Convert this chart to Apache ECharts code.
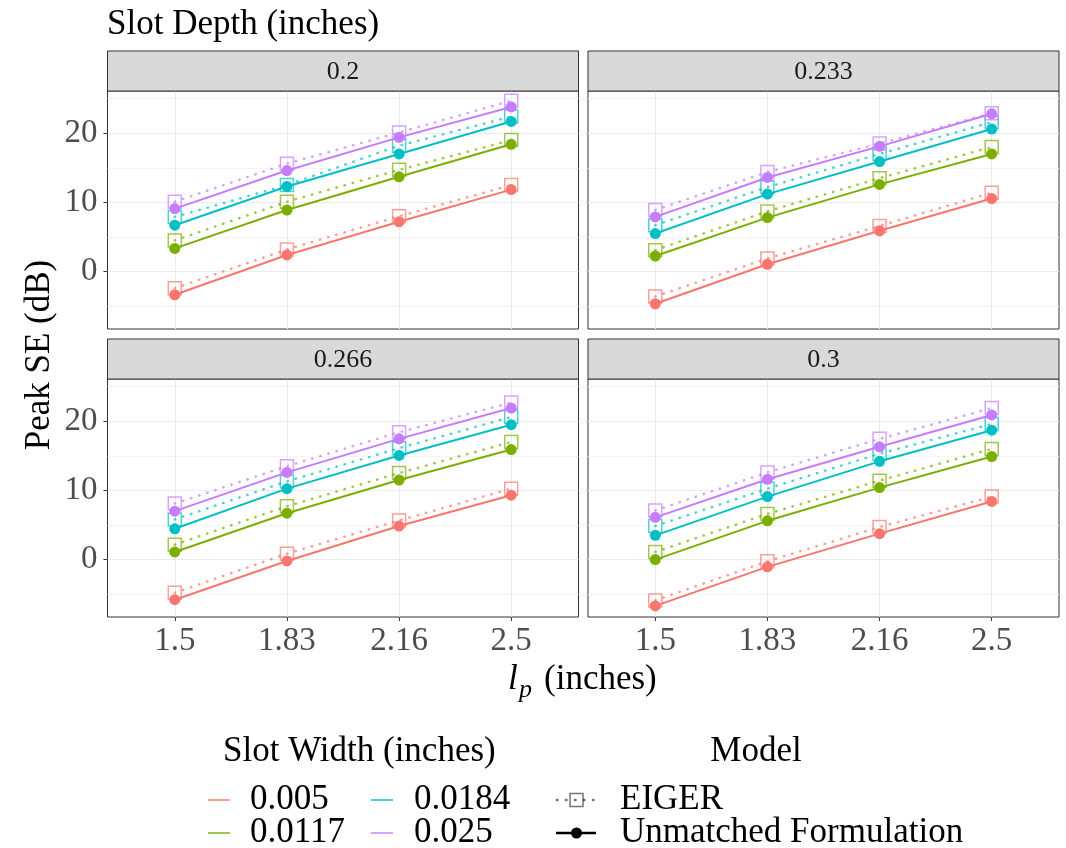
<!DOCTYPE html>
<html>
<head>
<meta charset="utf-8">
<script src="https://cdn.jsdelivr.net/npm/echarts@6/dist/echarts.min.js"></script>
<style>
  html, body { margin: 0; padding: 0; background: #ffffff; }
  #chart { width: 1066px; height: 848px; }
</style>
</head>
<body>
<div id="chart"></div>
<script>
// ---- data ----
const lpLabels = ['1.5', '1.83', '2.16', '2.5'];          // l_p (inches), discrete x
const slotDepths = ['0.2', '0.233', '0.266', '0.3'];     // facet panels
const slotWidths = ['0.005', '0.0117', '0.0184', '0.025'];
const yMajorTicks = [0, 10, 20];
const yMinorTicks = [-5, 5, 15, 25];

// Peak SE (dB) per slot depth; one row per slot width, one value per l_p
const eiger_d0200 = [
  [-2.4, 3.2, 8.0, 12.5],
  [4.5, 10.1, 14.7, 19.0],
  [7.9, 12.5, 18.2, 22.4],
  [10.1, 15.6, 20.1, 24.7]
];
const unmatched_d0200 = [
  [-3.35, 2.4, 7.2, 11.85],
  [3.35, 8.9, 13.7, 18.4],
  [6.7, 12.3, 17.0, 21.7],
  [9.1, 14.6, 19.4, 23.8]
];
const eiger_d0233 = [
  [-3.6, 1.9, 6.6, 11.4],
  [3.1, 8.7, 13.5, 18.0],
  [6.7, 12.2, 17.0, 21.6],
  [8.9, 14.4, 18.5, 22.9]
];
const unmatched_d0233 = [
  [-4.65, 1.05, 5.9, 10.55],
  [2.25, 7.8, 12.6, 17.0],
  [5.5, 11.2, 15.9, 20.6],
  [7.9, 13.6, 18.1, 22.8]
];
const eiger_d0266 = [
  [-4.8, 0.85, 5.65, 10.25],
  [2.15, 7.7, 12.5, 17.0],
  [5.8, 11.3, 16.1, 20.6],
  [8.1, 13.5, 18.4, 22.7]
];
const unmatched_d0266 = [
  [-5.8, -0.2, 4.85, 9.3],
  [1.1, 6.7, 11.5, 15.9],
  [4.45, 10.25, 15.05, 19.5],
  [7.0, 12.6, 17.45, 21.9]
];
const eiger_d0300 = [
  [-5.9, -0.25, 4.7, 9.1],
  [1.1, 6.6, 11.4, 16.0],
  [4.85, 10.25, 15.3, 19.6],
  [7.1, 12.6, 17.45, 21.9]
];
const unmatched_d0300 = [
  [-6.7, -1.05, 3.75, 8.4],
  [0.0, 5.6, 10.4, 14.9],
  [3.5, 9.1, 14.2, 18.7],
  [6.1, 11.6, 16.3, 20.9]
];

// ---- styling / layout ----
const FONT = '"Liberation Serif", "Times New Roman", serif';
const widthColors = ['#F8766D', '#7CAE00', '#00BFC4', '#C77CFF'];
const widthColorsLight = ['rgba(248,118,109,0.7)', 'rgba(124,174,0,0.7)',
                          'rgba(0,191,196,0.7)', 'rgba(199,124,255,0.7)'];
const eigerByPanel = [eiger_d0200, eiger_d0233, eiger_d0266, eiger_d0300];
const unmatchedByPanel = [unmatched_d0200, unmatched_d0233, unmatched_d0266, unmatched_d0300];

const panels = [
  { left: 107.5, top: 91, width: 471, height: 238 },
  { left: 588, top: 91, width: 471, height: 238 },
  { left: 107.5, top: 379, width: 471, height: 238 },
  { left: 588, top: 379, width: 471, height: 238 }
];
const STRIP_H = 40;
const Y_MIN = -8.3, Y_MAX = 26.1;
const X_MIN = -0.6, X_MAX = 3.6;
const xPositions = lpLabels.map((_, k) => k);

const chart = echarts.init(document.getElementById('chart'), null, { renderer: 'canvas' });

const grids = panels.map(p => ({
  left: p.left, top: p.top, width: p.width, height: p.height,
  show: true, backgroundColor: '#ffffff', borderColor: '#333333', borderWidth: 1,
  containLabel: false, outerBoundsMode: 'none'
}));

const xAxes = panels.map((p, i) => {
  const bottomRow = i >= 2;
  return {
    gridIndex: i, type: 'value', min: X_MIN, max: X_MAX, position: 'bottom',
    axisLine: { show: false, onZero: false },
    axisTick: { show: bottomRow, customValues: xPositions, length: 4, inside: false,
                lineStyle: { color: '#333333', width: 1 } },
    axisLabel: { show: bottomRow, customValues: xPositions, margin: 8,
                 formatter: v => lpLabels[Math.round(v)] || '',
                 color: '#4D4D4D', fontFamily: FONT, fontSize: 33 },
    splitLine: { show: true, lineStyle: { color: '#EBEBEB', width: 1 } }
  };
});

const yMain = panels.map((p, i) => {
  const leftCol = i % 2 === 0;
  return {
    gridIndex: i, type: 'value', min: Y_MIN, max: Y_MAX, position: 'left',
    axisLine: { show: false, onZero: false },
    axisTick: { show: leftCol, customValues: yMajorTicks, length: 4,
                lineStyle: { color: '#333333', width: 1 } },
    axisLabel: { show: leftCol, customValues: yMajorTicks, margin: 10,
                 color: '#4D4D4D', fontFamily: FONT, fontSize: 33 },
    splitLine: { show: true, lineStyle: { color: '#EBEBEB', width: 1 } }
  };
});
const yMinor = panels.map((p, i) => ({
  gridIndex: i, type: 'value', min: Y_MIN, max: Y_MAX, position: 'left',
  axisLine: { show: false, onZero: false },
  axisTick: { show: false, customValues: yMinorTicks },
  axisLabel: { show: false, customValues: yMinorTicks },
  splitLine: { show: true, lineStyle: { color: '#F4F4F4', width: 1 } }
}));

const series = [];
panels.forEach((p, i) => {
  // EIGER: dotted lines with hollow squares
  slotWidths.forEach((w, k) => {
    series.push({
      type: 'line', name: w + ' EIGER', xAxisIndex: i, yAxisIndex: i,
      data: eigerByPanel[i][k].map((v, j) => [xPositions[j], v]),
      symbol: 'rect', symbolSize: 13, showSymbol: true,
      itemStyle: { color: 'rgba(255,255,255,0)', borderColor: widthColorsLight[k], borderWidth: 1.5 },
      lineStyle: { color: widthColorsLight[k], width: 2.5, type: [0.5, 8], cap: 'round' },
      silent: true, animation: false, z: 2
    });
  });
  // Unmatched formulation: solid lines with filled circles
  slotWidths.forEach((w, k) => {
    series.push({
      type: 'line', name: w + ' Unmatched Formulation', xAxisIndex: i, yAxisIndex: i,
      data: unmatchedByPanel[i][k].map((v, j) => [xPositions[j], v]),
      symbol: 'circle', symbolSize: 11, showSymbol: true,
      itemStyle: { color: widthColors[k], borderWidth: 0 },
      lineStyle: { color: widthColors[k], width: 2 },
      silent: true, animation: false, z: 3
    });
  });
});

// ---- annotations: facet strips, titles, legend ----
function txt(x, y, text, opts) {
  const o = opts || {};
  const align = o.align || 'left';
  const valign = o.valign || 'middle';
  return {
    type: 'text', x: x, y: y, rotation: o.rotation || 0, silent: true, z: 100,
    style: {
      text: text, fill: o.color || '#000000',
      font: (o.style || 'normal') + ' ' + (o.size || 35) + 'px ' + FONT,
      textAlign: align, textVerticalAlign: valign, align: align, verticalAlign: valign
    }
  };
}

const graphics = [];
panels.forEach((p, i) => {
  graphics.push({
    type: 'rect', silent: true, z: 90,
    shape: { x: p.left, y: p.top - STRIP_H, width: p.width, height: STRIP_H },
    style: { fill: '#D9D9D9', stroke: '#333333', lineWidth: 1 }
  });
  graphics.push(txt(p.left + p.width / 2, p.top - STRIP_H / 2 + 1, slotDepths[i],
                    { align: 'center', size: 26, color: '#1A1A1A' }));
});

graphics.push(txt(107, 25, 'Slot Depth (inches)', { size: 35 }));
graphics.push(txt(40, 355, 'Peak SE (dB)', { align: 'center', size: 35, rotation: Math.PI / 2 }));
graphics.push(txt(508, 680, 'l', { size: 35, style: 'italic' }));
graphics.push(txt(519, 690, 'p', { size: 26, style: 'italic' }));
graphics.push(txt(544, 680, '(inches)', { size: 35 }));

// legend: slot width
graphics.push(txt(223, 752, 'Slot Width (inches)', { size: 35 }));
const legendCols = [[208, 250], [371, 414]];
const legendRows = [800, 833];
slotWidths.forEach((w, k) => {
  const col = legendCols[Math.floor(k / 2)];
  const row = legendRows[k % 2];
  graphics.push({
    type: 'line', silent: true, z: 100,
    shape: { x1: col[0], y1: row, x2: col[0] + 22, y2: row },
    style: { stroke: widthColorsLight[k], lineWidth: 2 }
  });
  graphics.push(txt(col[1], row, w, { size: 35 }));
});

// legend: model
graphics.push(txt(756, 752, 'Model', { align: 'center', size: 35 }));
graphics.push({
  type: 'line', silent: true, z: 100,
  shape: { x1: 557, y1: 800, x2: 595, y2: 800 },
  style: { stroke: 'rgba(0,0,0,0.55)', lineWidth: 2.5, lineDash: [0.5, 8.5], lineCap: 'round' }
});
graphics.push({
  type: 'rect', silent: true, z: 101,
  shape: { x: 570, y: 793.5, width: 13, height: 13 },
  style: { fill: 'rgba(255,255,255,0)', stroke: 'rgba(0,0,0,0.55)', lineWidth: 1.5 }
});
graphics.push({
  type: 'line', silent: true, z: 100,
  shape: { x1: 556, y1: 833, x2: 596, y2: 833 },
  style: { stroke: '#000000', lineWidth: 2.5 }
});
graphics.push({
  type: 'circle', silent: true, z: 101,
  shape: { cx: 576.5, cy: 833, r: 5.5 },
  style: { fill: '#000000' }
});
graphics.push(txt(620, 800, 'EIGER', { size: 35 }));
graphics.push(txt(620, 833, 'Unmatched Formulation', { size: 35 }));

chart.setOption({
  animation: false,
  backgroundColor: '#ffffff',
  textStyle: { fontFamily: FONT },
  grid: grids,
  xAxis: xAxes,
  yAxis: yMain.concat(yMinor),
  series: series,
  graphic: { elements: graphics }
});
</script>
</body>
</html>
